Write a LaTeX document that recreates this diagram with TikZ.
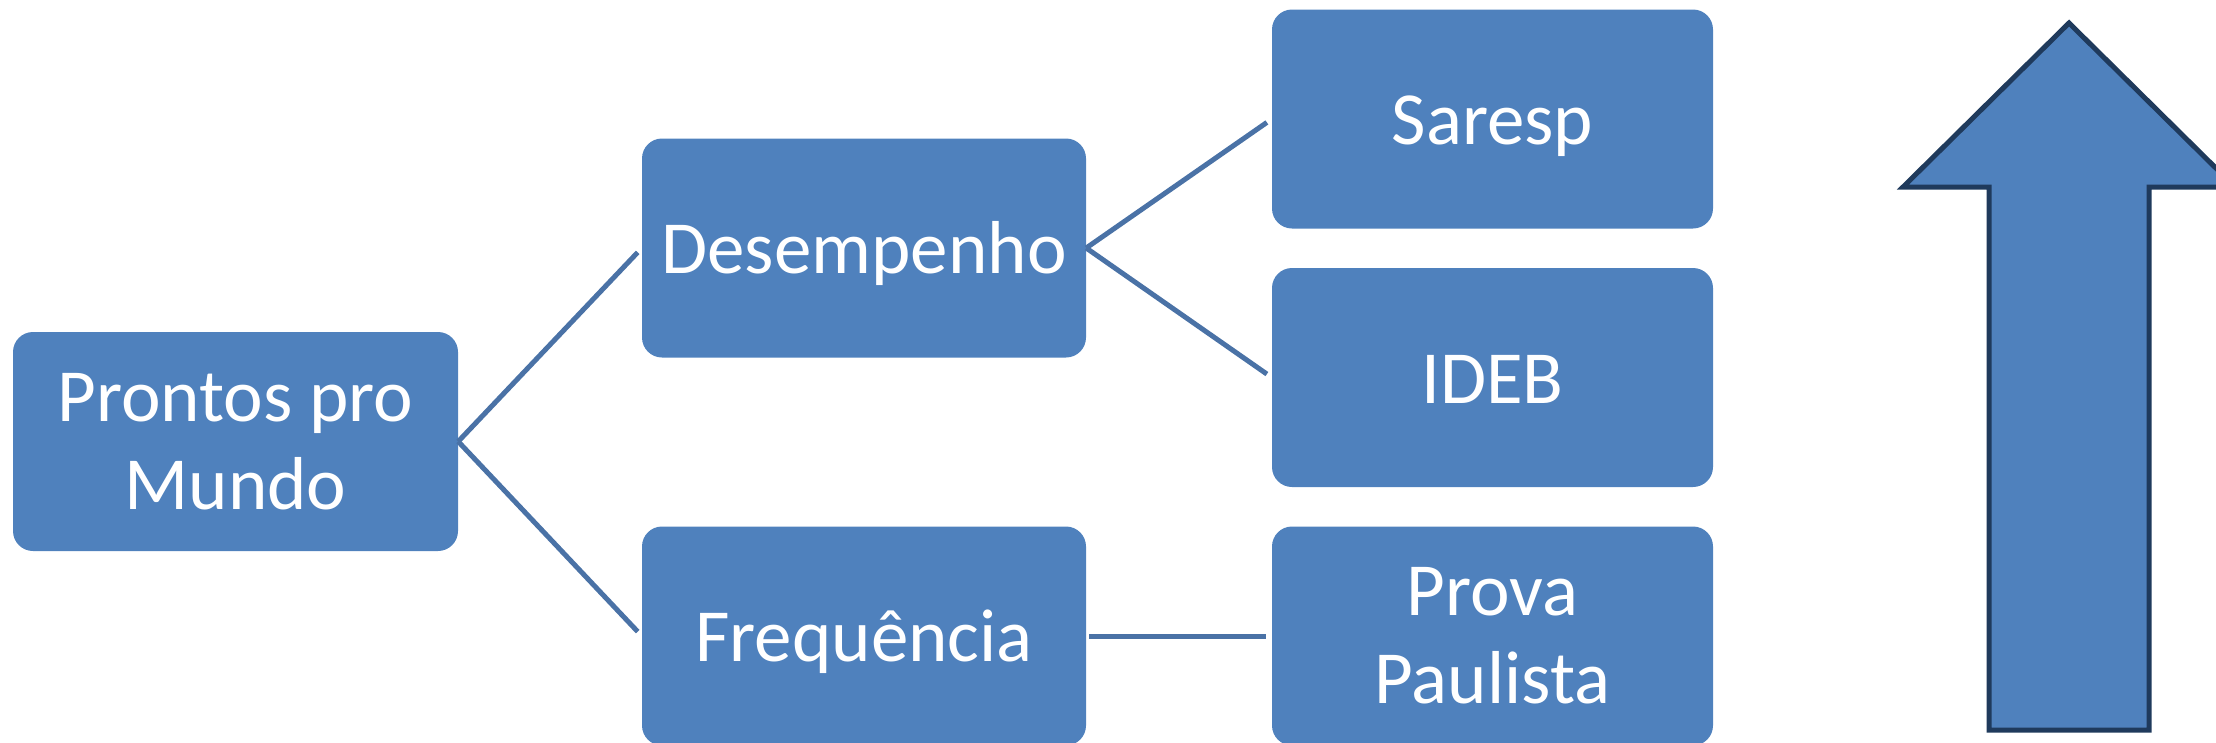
\documentclass[tikz,border=0pt]{standalone}
\usepackage{fontspec}
\setmainfont{Carlito}
\definecolor{boxblue}{HTML}{4F81BD}
\definecolor{linkblue}{HTML}{4A72A6}
\definecolor{navy}{HTML}{1F3A5C}
\begin{document}
\begin{tikzpicture}[x=1pt,y=-1pt,
  itembox/.style={rectangle, rounded corners=20pt, fill=boxblue, draw=none,
    minimum width=444pt, minimum height=219pt, text=white, align=center,
    font=\fontsize{75}{88}\selectfont, inner sep=0pt},
  oneline/.style={text height=66pt, text depth=15pt},
  link/.style={draw=linkblue, line width=5pt, shorten >=6pt}]
\useasboundingbox (0,0) rectangle (2216,742);
\node[itembox, minimum width=445pt] (root) at (235.5,441.5) {Prontos pro\\Mundo};
\node[itembox, oneline] (des) at (864,248) {Desempenho};
\node[itembox, oneline] (freq) at (864,636) {Frequência};
\node[itembox, oneline, minimum width=441pt] (sar) at (1492.5,119) {Saresp};
\node[itembox, oneline, minimum width=441pt] (ideb) at (1492.5,377.5) {IDEB};
\node[itembox, minimum width=441pt] (prova) at (1492.5,636) {Prova\\Paulista};
\draw[link] (root.east) -- (des.west);
\draw[link] (root.east) -- (freq.west);
\draw[link] (des.east) -- (sar.west);
\draw[link] (des.east) -- (ideb.west);
\draw[link, shorten <=3pt] (freq.east) -- (prova.west);
\draw[fill=boxblue, draw=navy, line width=5pt, line join=miter]
  (1989,730) -- (1989,187) -- (1903,187) -- (2069,23) -- (2235,187)
  -- (2149,187) -- (2149,730) -- cycle;
\end{tikzpicture}
\end{document}
